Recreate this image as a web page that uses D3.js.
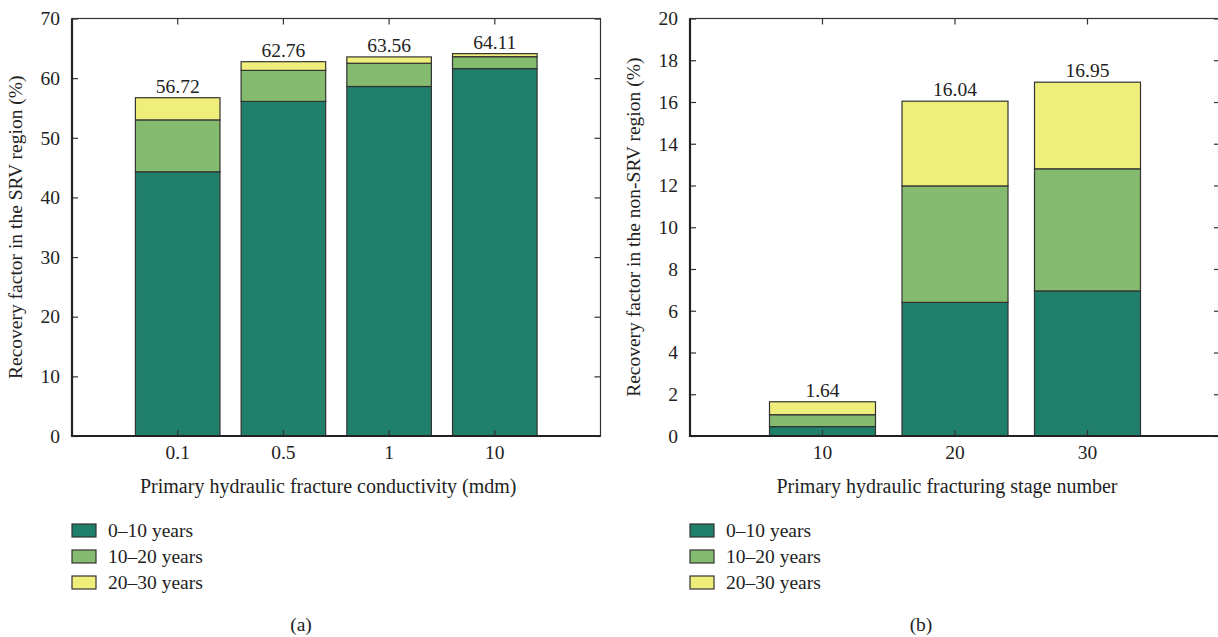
<!DOCTYPE html>
<html>
<head>
<meta charset="utf-8">
<script src="https://cdn.jsdelivr.net/npm/d3@7"></script>
<style>
body { margin: 0; background: #fff; }
svg { display: block; font-family: "Liberation Serif", "DejaVu Serif", serif; }
</style>
</head>
<body>
<div class="container"></div>
<script>
const width = 1218, height = 637;

const periods = ['0\u201310 years', '10\u201320 years', '20\u201330 years'];
const colors = ['#1f7f6a', '#84bb6e', '#f0ee7a'];

// (a) conductivity
const catsA = ['0.1', '0.5', '1', '10'];
const a0_10 = [44.3, 56.1, 58.6, 61.6];
const a10_20 = [8.7, 5.2, 3.9, 2.0];
const a20_30 = [3.72, 1.46, 1.06, 0.51];
const ticksA = [0, 10, 20, 30, 40, 50, 60, 70];

// (b) stage number
const catsB = ['10', '20', '30'];
const b0_10 = [0.45, 6.4, 6.95];
const b10_20 = [0.57, 5.58, 5.85];
const b20_30 = [0.62, 4.06, 4.15];
const ticksB = [0, 2, 4, 6, 8, 10, 12, 14, 16, 18, 20];

const fs = 19.5;

const svg = d3.select('.container').append('svg')
	.attr('width', width)
	.attr('height', height);

function panel(opt) {
	const {left, right, top, bottom, cats, series, ymax, yticks, ytitle, xtitle, tag} = opt;

	const g = svg.append('g');

	const sx = d3.scaleBand().domain(cats).range([left, right])
		.paddingInner(0.2).paddingOuter(0.6);
	const sy = d3.scaleLinear().domain([0, ymax]).range([bottom, top]);

	const rows = cats.map((c, i) => {
		const r = {cat: c};
		periods.forEach((p, k) => r[p] = series[k][i]);
		return r;
	});
	const stacked = d3.stack().keys(periods)(rows);

	g.append('g')
		.selectAll('g')
		.data(stacked)
		.join('g')
		.attr('fill', (d, k) => colors[k])
		.selectAll('rect')
		.data(d => d)
		.join('rect')
		.attr('x', d => sx(d.data.cat))
		.attr('width', sx.bandwidth())
		.attr('y', d => sy(d[1]))
		.attr('height', d => sy(d[0]) - sy(d[1]))
		.attr('stroke', '#333')
		.attr('stroke-width', 1.2);

	// totals on top
	g.append('g')
		.selectAll('text')
		.data(rows)
		.join('text')
		.attr('x', d => sx(d.cat) + sx.bandwidth() / 2)
		.attr('y', d => sy(d3.sum(periods, p => d[p])) - 5)
		.attr('text-anchor', 'middle')
		.attr('font-size', fs)
		.attr('fill', '#222')
		.text(d => d3.sum(periods, p => d[p]).toFixed(2));

	// axes with inward ticks
	const tl = 6;
	const xb = g.append('g').attr('transform', 'translate(0,' + bottom + ')')
		.call(d3.axisBottom(sx).tickSizeInner(-tl).tickSizeOuter(0).tickPadding(9));
	const xt = g.append('g').attr('transform', 'translate(0,' + top + ')')
		.call(d3.axisTop(sx).tickSizeInner(-tl).tickSizeOuter(0).tickFormat(''));
	const yl = g.append('g').attr('transform', 'translate(' + left + ',0)')
		.call(d3.axisLeft(sy).tickValues(yticks).tickSizeInner(-tl).tickSizeOuter(0).tickPadding(12));
	const yr = g.append('g').attr('transform', 'translate(' + right + ',0)')
		.call(d3.axisRight(sy).tickValues(yticks).tickSizeInner(-tl).tickSizeOuter(0).tickFormat(''));

	[xb, xt, yl, yr].forEach(a => {
		a.attr('font-family', null).attr('font-size', fs);
		a.select('.domain').remove();
		a.selectAll('.tick line').attr('stroke', '#333').attr('stroke-width', 1.2);
		a.selectAll('.tick text').attr('fill', '#222');
	});

	// frame
	g.append('rect')
		.attr('x', left).attr('y', top)
		.attr('width', right - left).attr('height', bottom - top)
		.attr('fill', 'none').attr('stroke', '#333').attr('stroke-width', 1.2);
	g.append('path')
		.attr('d', 'M' + left + ',' + top + 'V' + bottom + 'H' + right)
		.attr('fill', 'none').attr('stroke', '#222').attr('stroke-width', 2.2);

	// titles
	g.append('text')
		.attr('x', (left + right) / 2 - 8)
		.attr('y', bottom + 57)
		.attr('text-anchor', 'middle')
		.attr('font-size', fs + 0.5)
		.attr('fill', '#222')
		.text(xtitle);
	g.append('text')
		.attr('transform', 'translate(' + (left - 50) + ',' + ((top + bottom) / 2) + ') rotate(-90)')
		.attr('text-anchor', 'middle')
		.attr('font-size', fs)
		.attr('fill', '#222')
		.text(ytitle);

	// legend
	const lg = g.append('g').attr('transform', 'translate(' + left + ',' + (bottom + 88) + ')');
	const item = lg.selectAll('g')
		.data(periods)
		.join('g')
		.attr('transform', (d, k) => 'translate(0,' + (k * 26) + ')');
	item.append('rect')
		.attr('width', 24).attr('height', 13)
		.attr('fill', (d, k) => colors[k])
		.attr('stroke', '#333').attr('stroke-width', 1.2);
	item.append('text')
		.attr('x', 36).attr('y', 13)
		.attr('font-size', fs)
		.attr('fill', '#222')
		.text(d => d);

	g.append('text')
		.attr('x', tag.x)
		.attr('y', 631)
		.attr('text-anchor', 'middle')
		.attr('font-size', fs)
		.attr('fill', '#222')
		.text(tag.s);
}

panel({
	left: 72, right: 600.5, top: 18.5, bottom: 436,
	cats: catsA, series: [a0_10, a10_20, a20_30],
	ymax: 70, yticks: ticksA,
	ytitle: 'Recovery factor in the SRV region (%)',
	xtitle: 'Primary hydraulic fracture conductivity (mdm)',
	tag: {x: 301, s: '(a)'}
});

panel({
	left: 690, right: 1220, top: 18.5, bottom: 436,
	cats: catsB, series: [b0_10, b10_20, b20_30],
	ymax: 20, yticks: ticksB,
	ytitle: 'Recovery factor in the non-SRV region (%)',
	xtitle: 'Primary hydraulic fracturing stage number',
	tag: {x: 921, s: '(b)'}
});
</script>
</body>
</html>
